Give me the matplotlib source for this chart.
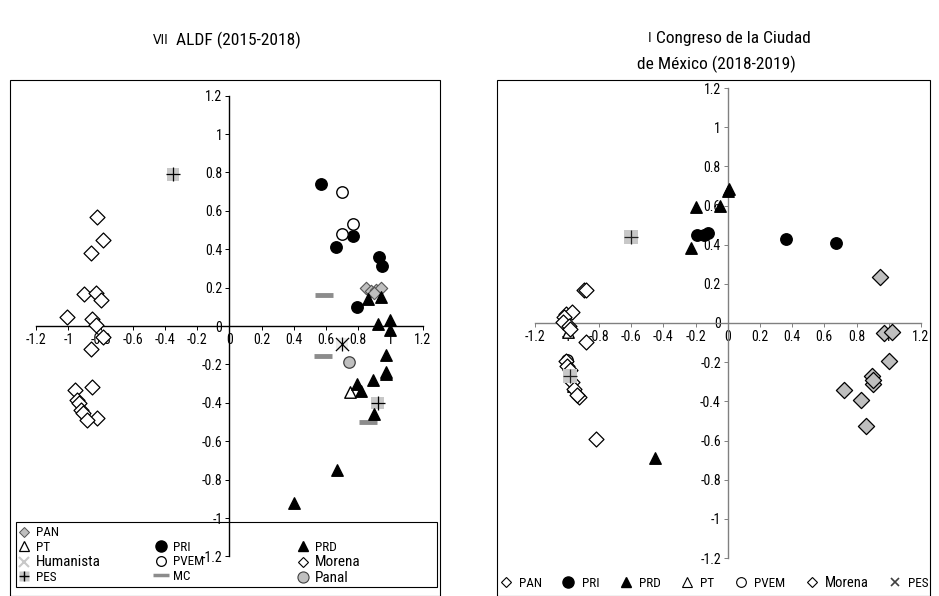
import matplotlib
matplotlib.use("Agg")
import matplotlib.pyplot as plt
from matplotlib.lines import Line2D
from matplotlib.patches import Rectangle

plt.rcParams['font.family'] = ['Roboto Condensed', 'DejaVu Sans']
plt.rcParams['font.stretch'] = 'condensed'

# ---------------- data: VII ALDF (2015-2018) ----------------
pan_l_x = [0.85, 0.88, 0.91, 0.94, 0.90]
pan_l_y = [0.20, 0.18, 0.19, 0.20, 0.17]
pri_l_x = [0.57, 0.77, 0.66, 0.93, 0.95, 0.79]
pri_l_y = [0.74, 0.47, 0.41, 0.36, 0.31, 0.10]
pvem_l_x = [0.70, 0.77, 0.70]
pvem_l_y = [0.70, 0.53, 0.48]
prd_l_x = [0.86, 0.94, 0.92, 1.00, 1.00, 0.97, 0.97, 0.97, 0.89, 0.79, 0.82, 0.90, 0.67, 0.40]
prd_l_y = [0.14, 0.15, 0.01, 0.03, -0.02, -0.15, -0.24, -0.25, -0.28, -0.30, -0.34, -0.46, -0.75, -0.92]
pt_l_x = [0.75]
pt_l_y = [-0.345]
panal_l_x = [0.74]
panal_l_y = [-0.19]
hum_l_x = [0.70]
hum_l_y = [-0.095]
pes_l_x = [-0.35, 0.92]
pes_l_y = [0.79, -0.40]
mc_l_x = [0.59, 0.58, 0.86]
mc_l_y = [0.16, -0.155, -0.50]
morena_l_x = [-0.825, -0.784, -0.86, -0.904, -0.829, -0.798, -1.011, -0.856, -0.829, -0.788,
              -0.86, -0.856, -0.96, -0.949, -0.933, -0.922, -0.908, -0.825, -0.887]
morena_l_y = [0.569, 0.448, 0.379, 0.167, 0.17, 0.135, 0.048, 0.035, 0.007, -0.056,
              -0.121, -0.316, -0.333, -0.385, -0.403, -0.438, -0.451, -0.477, -0.49]

# ---------------- data: I Congreso CDMX (2018-2019) ----------------
pan_r_x = [0.947, 0.97, 1.02, 0.999, 0.897, 0.905, 0.90, 0.725, 0.829, 0.856]
pan_r_y = [0.233, -0.051, -0.044, -0.192, -0.272, -0.311, -0.29, -0.342, -0.391, -0.527]
pri_r_x = [-0.19, -0.15, -0.125, 0.36, 0.67]
pri_r_y = [0.45, 0.45, 0.46, 0.43, 0.41]
prd_r_x = [-0.20, -0.045, 0.0, 0.01, -0.225, -0.45]
prd_r_y = [0.59, 0.60, 0.675, 0.685, 0.385, -0.69]
pt_r_x = [-0.99, -0.96]
pt_r_y = [-0.045, -0.32]
pvem_r_x = [-1.0]
pvem_r_y = [-0.19]
morena_r_x = [-0.895, -0.88, -1.006, -0.97, -1.016, -1.024, -0.986, -0.978, -0.882, -1.006,
              -0.999, -0.98, -0.965, -0.955, -0.924, -0.936, -0.816]
morena_r_y = [0.17, 0.17, 0.046, 0.055, 0.03, 0.003, -0.014, -0.03, -0.098, -0.192,
              -0.218, -0.24, -0.30, -0.337, -0.379, -0.37, -0.592]
pes_r_x = [-0.60, -0.98]
pes_r_y = [0.44, -0.27]

ticks = [-1.2, -1, -0.8, -0.6, -0.4, -0.2, 0, 0.2, 0.4, 0.6, 0.8, 1, 1.2]
tick_labels = ['-1.2', '-1', '-0.8', '-0.6', '-0.4', '-0.2', '0', '0.2', '0.4', '0.6', '0.8', '1', '1.2']

W, H = 939, 596
fig = plt.figure(figsize=(W / 100, H / 100), dpi=100)


def px(x0, y0, x1, y1):
    return [x0 / W, 1 - y1 / H, (x1 - x0) / W, (y1 - y0) / H]


# panel frames
for (x0, x1) in [(10, 440), (497, 930)]:
    fig.patches.append(Rectangle((x0 / W, 0), (x1 - x0) / W, 1 - 80 / H,
                                 transform=fig.transFigure, fill=False,
                                 edgecolor='black', linewidth=0.8))
# left legend frame
fig.patches.append(Rectangle((16 / W, 1 - 587 / H), (437 - 16) / W, (587 - 522) / H,
                             transform=fig.transFigure, fill=False,
                             edgecolor='black', linewidth=0.8))


def setup(ax, spine_color):
    ax.set_xlim(-1.2, 1.2)
    ax.set_ylim(-1.2, 1.2)
    ax.patch.set_alpha(0)
    for s in ['top', 'right']:
        ax.spines[s].set_visible(False)
    ax.spines['left'].set_position(('data', 0))
    ax.spines['bottom'].set_position(('data', 0))
    ax.spines['left'].set_color(spine_color)
    ax.spines['bottom'].set_color(spine_color)
    ax.spines['left'].set_linewidth(1.0)
    ax.spines['bottom'].set_linewidth(1.0)
    ax.set_xticks(ticks)
    ax.set_yticks(ticks)
    ax.set_xticklabels(tick_labels, fontsize=10)
    ax.set_yticklabels(tick_labels, fontsize=10)
    ax.tick_params(axis='both', direction='out', length=3, width=0.7,
                   pad=2, color=spine_color, labelcolor='black')


axL = fig.add_axes(px(36.2, 95.6, 422.6, 556.4))
setup(axL, 'black')
axR = fig.add_axes(px(534.5, 88, 920.9, 558))
setup(axR, '#808080')

ms = 68
# left panel
axL.scatter(morena_l_x, morena_l_y, marker='D', s=58, facecolor='white', edgecolor='black', linewidth=0.9, zorder=3)
axL.scatter(pri_l_x, pri_l_y, marker='o', s=ms, facecolor='black', edgecolor='black', zorder=3)
axL.scatter(pvem_l_x, pvem_l_y, marker='o', s=ms, facecolor='white', edgecolor='black', linewidth=1, zorder=3)
axL.scatter(pan_l_x, pan_l_y, marker='D', s=40, facecolor='#bfbfbf', edgecolor='#555555', linewidth=0.8, zorder=4)
axL.scatter(prd_l_x, prd_l_y, marker='^', s=ms, facecolor='black', edgecolor='black', zorder=5)
axL.scatter(pt_l_x, pt_l_y, marker='^', s=ms, facecolor='white', edgecolor='black', linewidth=1, zorder=4)
axL.scatter(panal_l_x, panal_l_y, marker='o', s=ms, facecolor='#bfbfbf', edgecolor='#404040', linewidth=0.9, zorder=4)
axL.scatter(hum_l_x, hum_l_y, marker='s', s=70, facecolor='#ececec', edgecolor='none', zorder=3)
axL.scatter(hum_l_x, hum_l_y, marker='x', s=90, color='black', linewidth=0.9, zorder=4)
axL.scatter(hum_l_x, hum_l_y, marker='|', s=90, color='black', linewidth=0.9, zorder=4)
axL.scatter(pes_l_x, pes_l_y, marker='s', s=80, facecolor='#c8c8c8', edgecolor='none', zorder=4)
axL.scatter(pes_l_x, pes_l_y, marker='+', s=90, color='black', linewidth=0.9, zorder=6)
axL.scatter(mc_l_x, mc_l_y, marker='_', s=180, color='#8c8c8c', linewidth=3.5, zorder=4)

# right panel
axR.scatter(morena_r_x, morena_r_y, marker='D', s=58, facecolor='white', edgecolor='black', linewidth=0.9, zorder=3)
axR.scatter(pan_r_x, pan_r_y, marker='D', s=68, facecolor='#bfbfbf', edgecolor='black', linewidth=0.9, zorder=3)
axR.scatter(pri_r_x, pri_r_y, marker='o', s=ms, facecolor='black', edgecolor='black', zorder=4)
axR.scatter(prd_r_x, prd_r_y, marker='^', s=ms, facecolor='black', edgecolor='black', zorder=5)
axR.scatter(pt_r_x, pt_r_y, marker='^', s=ms, facecolor='white', edgecolor='black', linewidth=1, zorder=2)
axR.scatter(pvem_r_x, pvem_r_y, marker='o', s=ms, facecolor='white', edgecolor='black', linewidth=1, zorder=2)
axR.scatter(pes_r_x, pes_r_y, marker='s', s=110, facecolor='#c8c8c8', edgecolor='none', zorder=5)
axR.scatter(pes_r_x, pes_r_y, marker='+', s=110, color='#222222', linewidth=0.9, zorder=6)

# titles (small caps roman numerals)
fig.text(169 / W, 1 - 40 / H, 'VII', ha='right', va='center', fontsize=10, family='DejaVu Sans')
fig.text(176 / W, 1 - 40 / H, 'ALDF (2015-2018)', ha='left', va='center', fontsize=12.5)
fig.text(648 / W, 1 - 38 / H, 'I', ha='left', va='center', fontsize=10, family='DejaVu Sans')
fig.text(656 / W, 1 - 38 / H, 'Congreso de la Ciudad', ha='left', va='center', fontsize=12.5)
fig.text(716 / W, 1 - 64 / H, 'de México (2018-2019)', ha='center', va='center', fontsize=12.5)


def lh(**kw):
    return Line2D([], [], ls='none', **kw)


blank = Line2D([], [], ls='none')
pes_handle = (lh(marker='s', ms=7, mfc='#c8c8c8', mec='none'),
              lh(marker='+', ms=7, color='black', mew=1.0))
col1 = ([lh(marker='D', ms=5, mfc='#bfbfbf', mec='#555555', mew=0.7),
         lh(marker='^', ms=7, mfc='white', mec='black', mew=0.9),
         lh(marker='x', ms=7, color='#c8c8c8', mew=1.5),
         pes_handle],
        ['PAN', 'PT', 'Humanista', 'PES'])
col2 = ([blank,
         lh(marker='o', ms=8, mfc='black', mec='black'),
         lh(marker='o', ms=7, mfc='white', mec='black', mew=0.9),
         lh(marker='_', ms=11, color='#8c8c8c', mew=2.5)],
        [' ', 'PRI', 'PVEM', 'MC'])
col3 = ([blank,
         lh(marker='^', ms=7, mfc='black', mec='black'),
         lh(marker='D', ms=5, mfc='white', mec='black', mew=0.8),
         lh(marker='o', ms=8, mfc='#bfbfbf', mec='#404040', mew=0.8)],
        [' ', 'PRD', 'Morena', 'Panal'])
for (hs, ls), x0 in zip([col1, col2, col3], [14, 151, 293]):
    lg = fig.legend(hs, ls, loc='upper left', bbox_to_anchor=(x0 / W, 1 - 523 / H),
                    fontsize=9.5, frameon=False, handlelength=1.0, handletextpad=0.4,
                    labelspacing=0.12, borderpad=0.25, borderaxespad=0)
    for t in lg.get_texts():
        if t.get_text() in ('Humanista', 'Morena', 'Panal'):
            t.set_fontsize(11)

# right legend
hR = [
    lh(marker='D', ms=5, mfc='white', mec='black', mew=0.8),
    lh(marker='o', ms=8, mfc='black', mec='black'),
    lh(marker='^', ms=7, mfc='black', mec='black'),
    lh(marker='^', ms=7, mfc='white', mec='black', mew=0.8),
    lh(marker='o', ms=7, mfc='white', mec='black', mew=0.8),
    lh(marker='D', ms=5, mfc='white', mec='black', mew=0.8),
    lh(marker='x', ms=6, color='#404040', mew=1.2),
]
lR = ['PAN', 'PRI', 'PRD', 'PT', 'PVEM', 'Morena', 'PES']
lgR = fig.legend(hR, lR, ncol=7, loc='center', bbox_to_anchor=(714 / W, 1 - 583 / H),
                 fontsize=9.5, frameon=False, handlelength=1.0, handletextpad=0.5,
                 columnspacing=1.5)
for t in lgR.get_texts():
    if t.get_text() == 'Morena':
        t.set_fontsize(10.5)

fig.savefig('out.png', dpi=100)
